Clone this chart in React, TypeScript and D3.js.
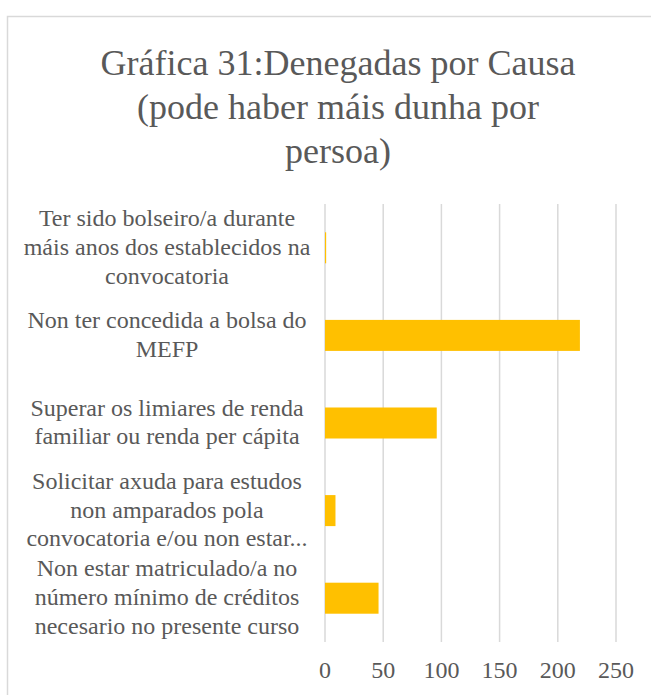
import React from "react";
import * as d3 from "d3";

const titleLines = [
  "Gráfica 31:Denegadas por Causa",
  "(pode haber máis dunha por",
  "persoa)",
];

const categories = [
  "Ter sido bolseiro/a durante máis anos dos establecidos na convocatoria",
  "Non ter concedida a bolsa do MEFP",
  "Superar os limiares de renda familiar ou renda per cápita",
  "Solicitar axuda para estudos non amparados pola convocatoria e/ou non estar...",
  "Non estar matriculado/a no número mínimo de créditos necesario no presente curso",
];

const categoryLines = [
  ["Ter sido bolseiro/a durante", "máis anos dos establecidos na", "convocatoria"],
  ["Non ter concedida a bolsa do", "MEFP"],
  ["Superar os limiares de renda", "familiar ou renda per cápita"],
  ["Solicitar axuda para estudos", "non amparados pola", "convocatoria e/ou non estar..."],
  ["Non estar matriculado/a no", "número mínimo de créditos", "necesario no presente curso"],
];

const values = [1, 219, 96, 9, 46];

const xTicks = [0, 50, 100, 150, 200, 250];

const W = 651;
const H = 695;
const FONT = "'Liberation Serif', 'Times New Roman', serif";
const TEXT = "#595959";
const GRID = "#d9d9d9";
const BAR = "#FFC000";

export default function App() {
  const x = d3.scaleLinear().domain([0, 250]).range([325, 616]);
  const y = d3
    .scaleBand<string>()
    .domain(categories)
    .range([204, 642])
    .paddingInner(0.646)
    .paddingOuter(0.323);

  const lineH = 28.8;

  return (
    <svg
      width={W}
      height={H}
      style={{ position: "absolute", left: 0, top: 0, background: "#fff" }}
      fontFamily={FONT}
    >
      <rect x={0} y={0} width={W} height={H} fill="#fff" />
      <rect
        x={7.5}
        y={16.5}
        width={W + 20}
        height={H + 20}
        fill="none"
        stroke={GRID}
        strokeWidth={1.5}
      />
      {titleLines.map((t, i) => (
        <text
          key={i}
          x={338}
          y={75 + i * 44}
          textAnchor="middle"
          fontSize={36}
          fill={TEXT}
        >
          {t}
        </text>
      ))}
      {xTicks.map((t) => (
        <line
          key={"g" + t}
          x1={x(t)}
          x2={x(t)}
          y1={204}
          y2={642}
          stroke={GRID}
          strokeWidth={1.5}
        />
      ))}
      {categories.map((c, i) => (
        <rect
          key={"b" + i}
          x={x(0)}
          y={y(c)}
          width={x(values[i]) - x(0)}
          height={y.bandwidth()}
          fill={BAR}
        />
      ))}
      {categories.map((c, i) => {
        const lines = categoryLines[i];
        const cy = (y(c) as number) + y.bandwidth() / 2;
        const first = cy - ((lines.length - 1) * lineH) / 2 + 7;
        return lines.map((l, j) => (
          <text
            key={"l" + i + "-" + j}
            x={167}
            y={first + j * lineH}
            textAnchor="middle"
            fontSize={24}
            fill={TEXT}
          >
            {l}
          </text>
        ));
      })}
      {xTicks.map((t) => (
        <text
          key={"t" + t}
          x={x(t)}
          y={678}
          textAnchor="middle"
          fontSize={24}
          fill={TEXT}
        >
          {t}
        </text>
      ))}
    </svg>
  );
}
